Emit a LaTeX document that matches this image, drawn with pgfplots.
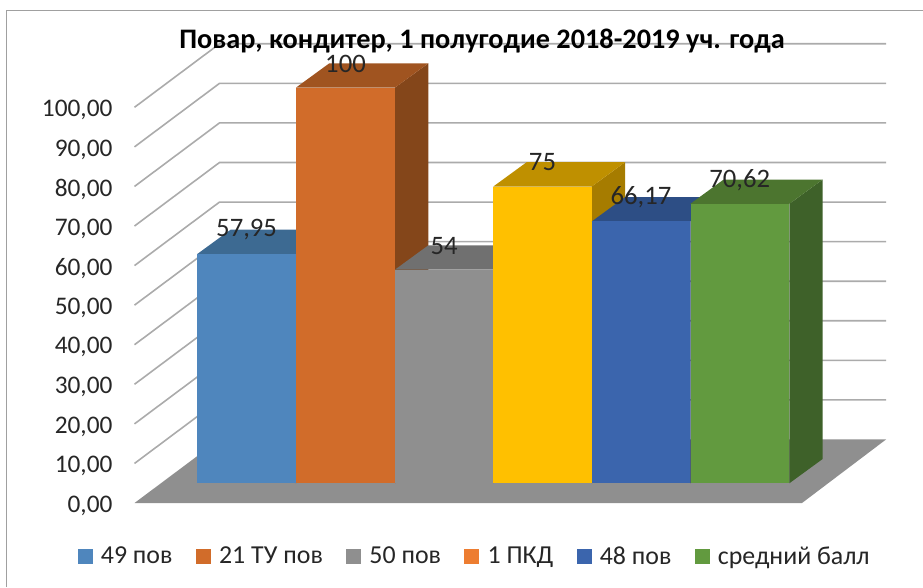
\documentclass[border=0pt]{standalone}
\usepackage{fontspec}
\setmainfont{Carlito}
\usepackage{pgfplots}
\pgfplotsset{compat=1.18}
\definecolor{frameC}{HTML}{A0A0A0}
\definecolor{gridC}{HTML}{ABABAB}
\definecolor{floorC}{HTML}{8F8F8F}
\definecolor{txt}{HTML}{262626}
\definecolor{aF}{HTML}{4F86BD}\definecolor{aT}{HTML}{3D6A92}\definecolor{aS}{HTML}{34597C}
\definecolor{bF}{HTML}{D16C2A}\definecolor{bT}{HTML}{A05420}\definecolor{bS}{HTML}{84461A}
\definecolor{cF}{HTML}{8F8F8F}\definecolor{cT}{HTML}{707070}\definecolor{cS}{HTML}{5F5F5F}
\definecolor{dF}{HTML}{FFC000}\definecolor{dT}{HTML}{BF9000}\definecolor{dS}{HTML}{A67C00}
\definecolor{eF}{HTML}{3B65AD}\definecolor{eT}{HTML}{2D4E85}\definecolor{eS}{HTML}{264270}
\definecolor{fF}{HTML}{629A3F}\definecolor{fT}{HTML}{4C752F}\definecolor{fS}{HTML}{3E6129}
\definecolor{legD}{HTML}{ED7D31}
\pgfplotsset{
  geom/.style={x=0.75pt,y=2.96775pt,xmin=134.5,xmax=886,ymin=0,ymax=100,clip=false,anchor=south west},
  face/.style={fill=#1,draw=none,forget plot},
  bar3d/.style={ybar,bar width=73.95pt,bar shift=0pt,fill=#1,draw=none,forget plot,
    nodes near coords,
    every node near coord/.append style={font=\fontsize{20}{22}\selectfont,text=txt,anchor=center,yshift=18pt,
      /pgf/number format/.cd,fixed,precision=2,use comma,assume math mode=true}},
}
\begin{document}
\begin{tikzpicture}
\path[use as bounding box] (0,0) rectangle (692.25pt,440.25pt);
\draw[frameC,line width=0.9pt] (4.9pt,0pt) -- (4.9pt,432.4pt) -- (692.25pt,432.4pt);
% back wall, floor and value axis
\begin{axis}[geom,at={(100.875pt,63pt)},
  axis line style={draw=none},major tick length=0pt,xtick=\empty,
  ytick={0,10,...,100},
  tick label style={text=txt},
  yticklabel style={font=\fontsize{19}{21}\selectfont,xshift=-13pt,yshift=-2pt,
    /pgf/number format/.cd,fixed,fixed zerofill,precision=2,use comma,assume math mode=true},
  title={\fontsize{21.2}{23}\selectfont\bfseries Повар, кондитер, 1 полугодие 2018-2019 уч. года},
  title style={at={(0.4624,1.147)},anchor=center,text=black,inner sep=0pt},
]
\addplot[fill=floorC,draw=none] coordinates {(134.5,0)(802,0)(886,16.05)(219.5,16.05)} -- cycle;
\addplot[gridC,line width=1.2pt] coordinates {(134.5,10)(219.5,26.05)(886,26.05)};
\addplot[gridC,line width=1.2pt] coordinates {(134.5,20)(219.5,36.05)(886,36.05)};
\addplot[gridC,line width=1.2pt] coordinates {(134.5,30)(219.5,46.05)(886,46.05)};
\addplot[gridC,line width=1.2pt] coordinates {(134.5,40)(219.5,56.05)(886,56.05)};
\addplot[gridC,line width=1.2pt] coordinates {(134.5,50)(219.5,66.05)(886,66.05)};
\addplot[gridC,line width=1.2pt] coordinates {(134.5,60)(219.5,76.05)(886,76.05)};
\addplot[gridC,line width=1.2pt] coordinates {(134.5,70)(219.5,86.05)(886,86.05)};
\addplot[gridC,line width=1.2pt] coordinates {(134.5,80)(219.5,96.05)(886,96.05)};
\addplot[gridC,line width=1.2pt] coordinates {(134.5,90)(219.5,106.05)(886,106.05)};
\addplot[gridC,line width=1.2pt] coordinates {(134.5,100)(219.5,116.05)(886,116.05)};
\end{axis}
% bars
\begin{axis}[geom,at={(100.875pt,77.775pt)},
  hide axis,
  legend columns=6,
  legend style={at={(0.4531,-0.185)},anchor=center,draw=none,fill=none,
    font=\fontsize{19.4}{21}\selectfont,text=txt,inner sep=0pt,
    /tikz/every even column/.append style={column sep=15.5pt}},
  legend image code/.code={\fill[#1] (0pt,-5.25pt) rectangle (10.5pt,5.25pt);\path (15pt,0pt);},
]
% 49 пов
\addplot[face=aS] coordinates {(295.9,0)(329.2,6.14)(329.2,64.09)(295.9,57.95)} -- cycle;
\addplot[face=aT] coordinates {(197.3,57.95)(295.9,57.95)(329.2,64.09)(230.6,64.09)} -- cycle;
\addplot[bar3d=aF] coordinates {(246.6,57.95)};
% 21 ТУ пов
\addplot[face=bS] coordinates {(395,0)(428.3,6.14)(428.3,106.14)(395,100)} -- cycle;
\addplot[face=bT] coordinates {(296,100)(395,100)(428.3,106.14)(329.3,106.14)} -- cycle;
\addplot[bar3d=bF] coordinates {(345.5,100)};
% 50 пов
\addplot[face=cS] coordinates {(493.3,0)(526.6,6.14)(526.6,60.14)(493.3,54)} -- cycle;
\addplot[face=cT] coordinates {(395,54)(493.3,54)(526.6,60.14)(428.3,60.14)} -- cycle;
\addplot[bar3d=cF] coordinates {(444.2,54)};
% 1 ПКД
\addplot[face=dS] coordinates {(591.7,0)(625,6.14)(625,81.14)(591.7,75)} -- cycle;
\addplot[face=dT] coordinates {(493.3,75)(591.7,75)(625,81.14)(526.6,81.14)} -- cycle;
\addplot[bar3d=dF] coordinates {(542.5,75)};
% 48 пов
\addplot[face=eS] coordinates {(690.3,0)(723.6,6.14)(723.6,72.31)(690.3,66.17)} -- cycle;
\addplot[face=eT] coordinates {(591.7,66.17)(690.3,66.17)(723.6,72.31)(625,72.31)} -- cycle;
\addplot[bar3d=eF] coordinates {(641,66.17)};
% средний балл
\addplot[face=fS] coordinates {(789.3,0)(822.6,6.14)(822.6,76.76)(789.3,70.62)} -- cycle;
\addplot[face=fT] coordinates {(690.3,70.62)(789.3,70.62)(822.6,76.76)(723.6,76.76)} -- cycle;
\addplot[bar3d=fF] coordinates {(739.8,70.62)};
\addlegendimage{aF}\addlegendentry{49 пов}
\addlegendimage{bF}\addlegendentry{21 ТУ пов}
\addlegendimage{cF}\addlegendentry{50 пов}
\addlegendimage{legD}\addlegendentry{1 ПКД}
\addlegendimage{eF}\addlegendentry{48 пов}
\addlegendimage{fF}\addlegendentry{средний балл}
\end{axis}
\end{tikzpicture}
\end{document}
